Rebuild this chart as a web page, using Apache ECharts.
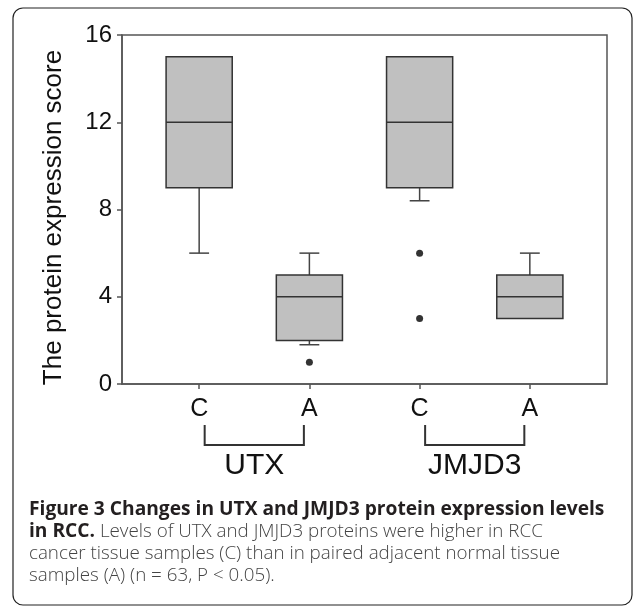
<!DOCTYPE html>
<html>
<head>
<meta charset="utf-8">
<script src="https://cdn.jsdelivr.net/npm/echarts@6/dist/echarts.min.js"></script>
<style>
html,body{margin:0;padding:0;background:#fff;}
#chart{width:634px;height:608px;}
</style>
</head>
<body>
<div id="chart"></div>
<script>
// ---- data ----
const categories = ['C', 'A', 'C', 'A'];
const positions = [1, 2, 3, 4];
const groups = ['UTX', 'JMJD3'];
const groupPositions = [1.5, 3.5];
const mins = [6, 1.8, 8.4, 3];
const q1s = [9, 2, 9, 3];
const medians = [12, 4, 12, 4];
const q3s = [15, 5, 15, 5];
const maxs = [15, 6, 15, 6];
const outliers = [[2, 1], [3, 6], [3, 3]];
const yTicks = [0, 4, 8, 12, 16];

const boxData = positions.map((p, i) => [p, mins[i], q1s[i], medians[i], q3s[i], maxs[i]]);
const bracketData = groupPositions.map(g => [g]);

const chart = echarts.init(document.getElementById('chart'), null, {renderer: 'canvas'});
const axisColor = '#555';
const font = '"Liberation Sans", Arial, sans-serif';
const boldFont = '"Open Sans", "Noto Sans", sans-serif';
const capFont = '"Open Sans", "Noto Sans", sans-serif';

const option = {
  backgroundColor: '#fff',
  animation: false,
  grid: {
    left: 122, right: 27, top: 35, bottom: 224,
    show: true, borderColor: axisColor, borderWidth: 1.5, backgroundColor: 'transparent'
  },
  xAxis: [{
    type: 'value', min: 0.3, max: 4.7,
    axisLine: {show: true, onZero: false, lineStyle: {color: axisColor, width: 1.5}},
    axisTick: {show: true, inside: false, length: 5, customValues: positions, lineStyle: {color: axisColor, width: 1.5}},
    axisLabel: {
      show: true, customValues: positions, margin: 13,
      fontSize: 25, color: '#111', fontFamily: font,
      formatter: v => categories[Math.round(v) - 1] || ''
    },
    splitLine: {show: false}
  }, {
    type: 'value', min: 0.3, max: 4.7, position: 'bottom', offset: 0,
    axisLine: {show: false}, axisTick: {show: false}, splitLine: {show: false},
    axisLabel: {
      show: true, customValues: groupPositions, margin: 67,
      fontSize: 30, color: '#111', fontFamily: font,
      formatter: v => groups[groupPositions.indexOf(v)] || ''
    }
  }],
  yAxis: {
    type: 'value', min: 0, max: 16, interval: 4,
    name: 'The protein expression score', nameLocation: 'middle', nameGap: 55,
    nameTextStyle: {fontSize: 26, color: '#111', fontFamily: font, padding: [0, 16, 0, 0]},
    axisLine: {show: true, lineStyle: {color: axisColor, width: 1.5}},
    axisTick: {show: true, inside: false, length: 5, lineStyle: {color: axisColor, width: 1.5}},
    axisLabel: {margin: 10, fontSize: 24, color: '#111', fontFamily: font,
      formatter: v => yTicks.indexOf(v) >= 0 ? String(v) : ''},
    splitLine: {show: false}
  },
  series: [{
    type: 'custom',
    xAxisIndex: 0,
    data: boxData,
    renderItem: function (params, api) {
      const x = api.value(0);
      const band = api.size([1, 0])[0];
      const half = band * 0.3;
      const capHalf = band * 0.09;
      const pMin = api.coord([x, api.value(1)]);
      const pQ1 = api.coord([x, api.value(2)]);
      const pMed = api.coord([x, api.value(3)]);
      const pQ3 = api.coord([x, api.value(4)]);
      const pMax = api.coord([x, api.value(5)]);
      const lineStyle = {stroke: '#444', lineWidth: 1.5, fill: null};
      const children = [];
      if (api.value(5) > api.value(4)) {
        children.push({type: 'line', shape: {x1: pMax[0], y1: pMax[1], x2: pQ3[0], y2: pQ3[1]}, style: lineStyle});
        children.push({type: 'line', shape: {x1: pMax[0] - capHalf, y1: pMax[1], x2: pMax[0] + capHalf, y2: pMax[1]}, style: lineStyle});
      }
      if (api.value(1) < api.value(2)) {
        children.push({type: 'line', shape: {x1: pMin[0], y1: pMin[1], x2: pQ1[0], y2: pQ1[1]}, style: lineStyle});
        children.push({type: 'line', shape: {x1: pMin[0] - capHalf, y1: pMin[1], x2: pMin[0] + capHalf, y2: pMin[1]}, style: lineStyle});
      }
      children.push({type: 'rect', shape: {x: pQ3[0] - half, y: pQ3[1], width: half * 2, height: pQ1[1] - pQ3[1]},
        style: {fill: '#c0c0c0', stroke: '#333', lineWidth: 1.5}});
      children.push({type: 'line', shape: {x1: pMed[0] - half, y1: pMed[1], x2: pMed[0] + half, y2: pMed[1]},
        style: {stroke: '#333', lineWidth: 1.5}});
      return {type: 'group', children: children};
    }
  }, {
    type: 'scatter',
    xAxisIndex: 0,
    data: outliers,
    symbol: 'circle', symbolSize: 7,
    itemStyle: {color: '#000'}
  }, {
    type: 'custom',
    xAxisIndex: 0,
    clip: false,
    data: bracketData,
    renderItem: function (params, api) {
      const g = api.value(0);
      const left = api.coord([g - 0.45, 0]);
      const right = api.coord([g + 0.45, 0]);
      const y0 = left[1] + 41;
      const y1 = left[1] + 61;
      return {
        type: 'polyline',
        shape: {points: [[left[0], y0], [left[0], y1], [right[0], y1], [right[0], y0]]},
        style: {stroke: '#333', lineWidth: 2, fill: null}
      };
    }
  }],
  graphic: [
    {type: 'rect', shape: {x: 13, y: 8, width: 619, height: 597, r: 10},
      style: {fill: null, stroke: '#222', lineWidth: 1.2}, silent: true},
    {type: 'text', x: 29, y: 510, style: {
      text: 'Figure 3 Changes in UTX and JMJD3 protein expression levels',
      font: 'bold 19.2px ' + boldFont, fill: '#231f20', verticalAlign: 'middle'}},
    {type: 'text', x: 29, y: 532, style: {
      text: '{b|in RCC.}{n| Levels of UTX and JMJD3 proteins were higher in RCC}',
      verticalAlign: 'middle',
      rich: {b: {font: 'bold 19.2px ' + boldFont, fill: '#231f20'}, n: {font: '300 18.8px ' + capFont, fill: '#444'}}}},
    {type: 'text', x: 29, y: 554, style: {
      text: 'cancer tissue samples (C) than in paired adjacent normal tissue',
      font: '300 18.8px ' + capFont, fill: '#444', verticalAlign: 'middle'}},
    {type: 'text', x: 29, y: 576, style: {
      text: 'samples (A) (n = 63, P < 0.05).',
      font: '300 18.8px ' + capFont, fill: '#444', verticalAlign: 'middle'}}
  ]
};
chart.setOption(option);
</script>
</body>
</html>
